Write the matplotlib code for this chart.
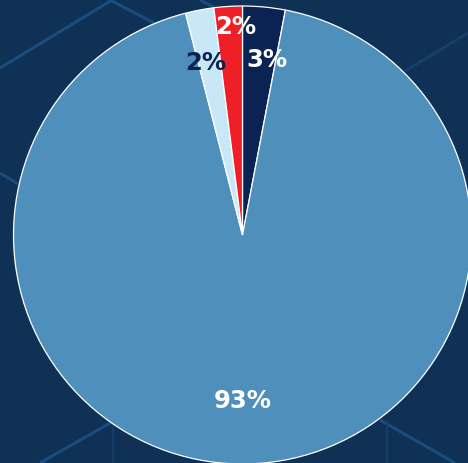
import numpy as np
import matplotlib
matplotlib.use("Agg")
import matplotlib.pyplot as plt

# slice values, clockwise from 12 o'clock
labels = ["3%", "93%", "2%", "2%"]
values = [3, 93, 2, 2]
slice_colors = ["#0b2352", "#4f8fbb", "#c8e8f8", "#ee1f26"]
text_colors = ["white", "white", "#0b2352", "white"]
# per-label radius and angular nudge (degrees)
label_r = [0.77, 0.725, 0.77, 0.91]
label_nudge = [-2.6, -1.8, 1.4, -1.8]

BG = "#0f3155"
LINE = "#1a4c7e"

# decorative background strokes, pixel coords (x0, y0, x1, y1, width, colour)
bg_lines = [
    (0, 68, 112, 0, 2.2, LINE),
    (110, 0, 160, 26, 2.2, LINE),
    (200, 0, 215, 8, 2.2, LINE),
    (468, 33, 405, 71, 2.0, "#173f6a"),
    (0, 173, 18, 184, 2.2, LINE),
    (40, 463, 112, 422, 2.2, LINE),
    (113, 422, 113, 463, 1.6, "#163d66"),
    (380, 420, 455, 463, 2.2, LINE),
    (387, 420, 387, 463, 1.6, "#163d66"),
]

W, H, DPI = 468, 463, 100
fig = plt.figure(figsize=(W / DPI, H / DPI), dpi=DPI, facecolor=BG)

bg = fig.add_axes([0, 0, 1, 1])
bg.set_xlim(0, W)
bg.set_ylim(H, 0)
bg.axis("off")
for x0, y0, x1, y1, lw, c in bg_lines:
    bg.plot([x0, x1], [y0, y1], color=c, lw=lw, solid_capstyle="butt")

# pie: centre (242.5, 235) px, radius 229 px
cx, cy, r = 242.5, 235, 229
ax = fig.add_axes([(cx - r) / W, (H - cy - r) / H, 2 * r / W, 2 * r / H])
ax.set_facecolor("none")
wedges, _ = ax.pie(values, colors=slice_colors, startangle=90, counterclock=False,
                   radius=1.0, wedgeprops=dict(edgecolor="white", linewidth=0.9))
ax.set_xlim(-1, 1)
ax.set_ylim(-1, 1)
ax.set_aspect("equal")
ax.axis("off")

for w, lab, tc, lr, dn in zip(wedges, labels, text_colors, label_r, label_nudge):
    mid = np.deg2rad((w.theta1 + w.theta2) / 2 + dn)
    ax.text(lr * np.cos(mid), lr * np.sin(mid), lab, color=tc, ha="center", va="center",
            fontsize=17.5, fontweight="bold", family="DejaVu Sans")

fig.savefig("out.png", dpi=DPI, facecolor=BG)
